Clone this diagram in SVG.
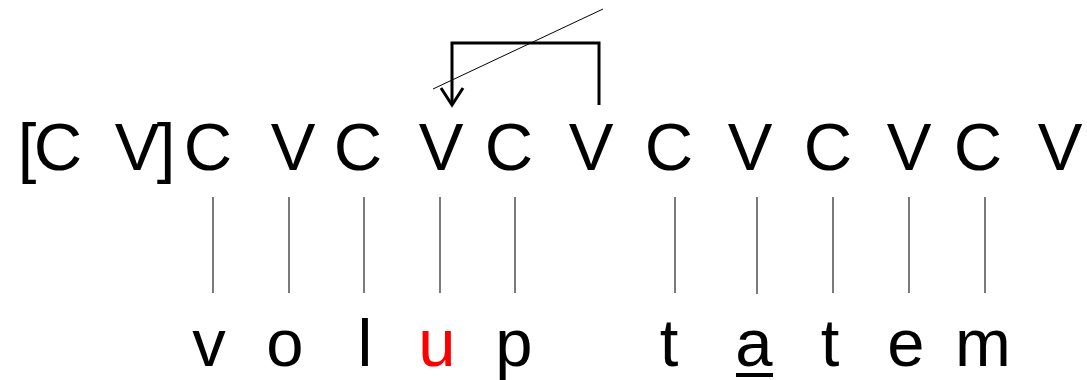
<svg xmlns="http://www.w3.org/2000/svg" width="1087" height="380" viewBox="0 0 1087 380">
<style>
.t{font-family:"Liberation Sans",Arial,sans-serif;font-size:67px;fill:#000;text-anchor:middle}
.red{fill:#ff0000}
.tick{stroke:#222;stroke-width:1.2}
.arr{fill:none;stroke:#000;stroke-width:3}
</style>
<rect width="1087" height="380" fill="#fff"/>
<g id="top-row">
<text class="t" x="27 58" y="170">[C</text>
<text class="t" x="137 166" y="170">V]</text>
<text class="t" x="208" y="170">C</text>
<text class="t" x="293" y="170">V</text>
<text class="t" x="358" y="170">C</text>
<text class="t" x="441" y="170">V</text>
<text class="t" x="509" y="170">C</text>
<text class="t" x="591" y="170">V</text>
<text class="t" x="669" y="170">C</text>
<text class="t" x="750" y="170">V</text>
<text class="t" x="828" y="170">C</text>
<text class="t" x="909" y="170">V</text>
<text class="t" x="978" y="170">C</text>
<text class="t" x="1060" y="170">V</text>
</g>
<g id="connectors">
<line class="tick" x1="213" y1="197" x2="213" y2="293"/>
<line class="tick" x1="289" y1="197" x2="289" y2="293"/>
<line class="tick" x1="364" y1="197" x2="364" y2="293"/>
<line class="tick" x1="440" y1="197" x2="440" y2="293"/>
<line class="tick" x1="515" y1="197" x2="515" y2="293"/>
<line class="tick" x1="675" y1="197" x2="675" y2="293"/>
<line class="tick" x1="757" y1="197" x2="757" y2="294"/>
<line class="tick" x1="833" y1="197" x2="833" y2="293"/>
<line class="tick" x1="909" y1="197" x2="909" y2="293"/>
<line class="tick" x1="985" y1="197" x2="985" y2="293"/>
<path class="arr" d="M599,105 V43 H452 V103"/>
<polyline class="arr" points="441,88 452,105 463,88"/>
<line x1="433" y1="89" x2="603" y2="9" stroke="#000" stroke-width="1"/>
</g>
<g id="bottom-row">
<text class="t" x="209" y="366">v</text>
<text class="t" x="285" y="366">o</text>
<text class="t" x="365" y="366">l</text>
<text class="t red" x="437" y="366">u</text>
<text class="t" x="514" y="366">p</text>
<text class="t" x="669" y="366">t</text>
<text class="t" x="754" y="366">a</text>
<rect x="736" y="373" width="37" height="4" fill="#000"/>
<text class="t" x="830" y="366">t</text>
<text class="t" x="906" y="366">e</text>
<text class="t" x="983" y="366">m</text>
</g>
</svg>
